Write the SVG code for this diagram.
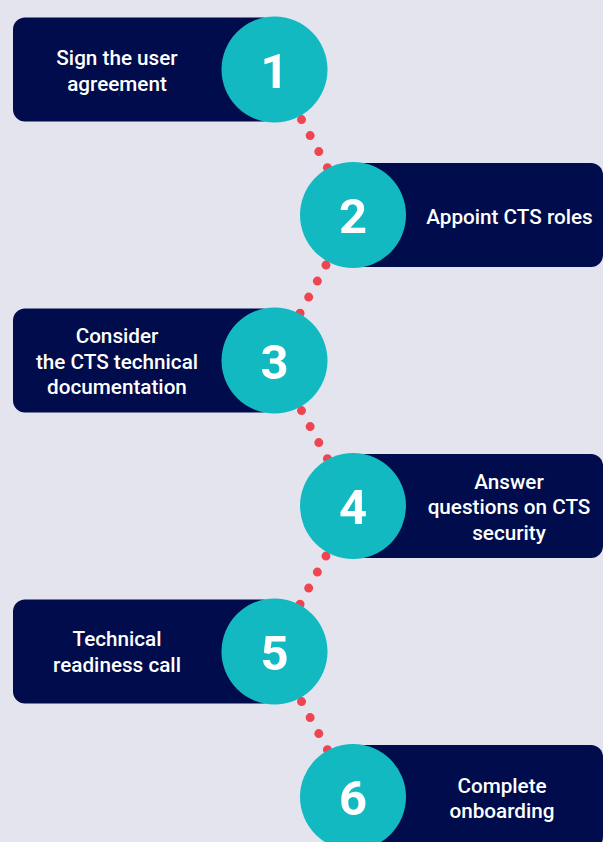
<svg xmlns="http://www.w3.org/2000/svg" width="603" height="842" viewBox="0 0 603 842">
<style>
.bg{fill:#E4E4EF}
.box{fill:#000C4B}
.num-c{fill:#13B9C1}
.lbl{font-family:Roboto,"Liberation Sans",sans-serif;font-weight:500;font-size:20.7px;fill:#FFFFFF;text-anchor:middle}
.num{font-family:Roboto,"Liberation Sans",sans-serif;font-weight:700;font-size:49px;fill:#FFFFFF;text-anchor:middle}
.dots{stroke:#EE4550;stroke-width:9;stroke-linecap:round;stroke-dasharray:0 18.2;stroke-dashoffset:15.9;fill:none}
</style>
<rect class="bg" x="0" y="0" width="603" height="842"/>
<g id="connectors">
<line class="dots" x1="274.5" y1="69.5" x2="353" y2="215"/>
<line class="dots" x1="353" y1="215" x2="274.5" y2="360.5"/>
<line class="dots" x1="274.5" y1="360.5" x2="353" y2="506"/>
<line class="dots" x1="353" y1="506" x2="274.5" y2="651.5"/>
<line class="dots" x1="274.5" y1="651.5" x2="353" y2="797"/>
</g>
<g id="step1">
<rect class="box" x="13" y="17.5" width="261.5" height="104" rx="12"/>
<circle class="num-c" cx="274.5" cy="69.5" r="53"/>
<text class="num" x="274.5" y="87.5">1</text>
<text class="lbl" x="117" y="65">Sign the user</text>
<text class="lbl" x="117" y="90.5">agreement</text>
</g>
<g id="step2">
<rect class="box" x="353" y="163" width="250" height="104" rx="12"/>
<circle class="num-c" cx="353" cy="215" r="53"/>
<text class="num" x="353" y="233">2</text>
<text class="lbl" x="509.5" y="224">Appoint CTS roles</text>
</g>
<g id="step3">
<rect class="box" x="13" y="308.5" width="261.5" height="104" rx="12"/>
<circle class="num-c" cx="274.5" cy="360.5" r="53"/>
<text class="num" x="274.5" y="378.5">3</text>
<text class="lbl" x="117" y="343">Consider</text>
<text class="lbl" x="117" y="368.5">the CTS technical</text>
<text class="lbl" x="117" y="394">documentation</text>
</g>
<g id="step4">
<rect class="box" x="353" y="454" width="250" height="104" rx="12"/>
<circle class="num-c" cx="353" cy="506" r="53"/>
<text class="num" x="353" y="524">4</text>
<text class="lbl" x="509" y="488.5">Answer</text>
<text class="lbl" x="509" y="514">questions on CTS</text>
<text class="lbl" x="509" y="539.5">security</text>
</g>
<g id="step5">
<rect class="box" x="13" y="599.5" width="261.5" height="104" rx="12"/>
<circle class="num-c" cx="274.5" cy="651.5" r="53"/>
<text class="num" x="274.5" y="669.5">5</text>
<text class="lbl" x="117" y="646">Technical</text>
<text class="lbl" x="117" y="671.5">readiness call</text>
</g>
<g id="step6">
<rect class="box" x="353" y="745" width="250" height="104" rx="12"/>
<circle class="num-c" cx="353" cy="797" r="53"/>
<text class="num" x="353" y="815">6</text>
<text class="lbl" x="502" y="793">Complete</text>
<text class="lbl" x="502" y="818">onboarding</text>
</g>
</svg>
